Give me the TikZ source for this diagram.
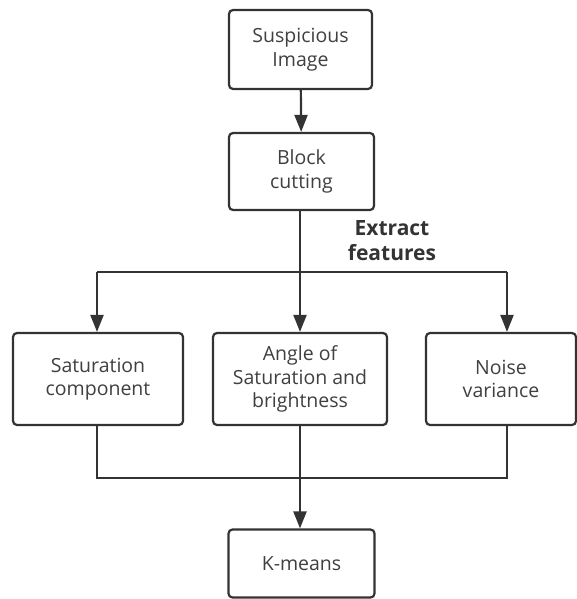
\documentclass[tikz,border=0pt]{standalone}
\usepackage{fontspec}
\setmainfont{Open Sans}
\usetikzlibrary{arrows.meta}
\begin{document}
\begin{tikzpicture}[x=1pt,y=-1pt,
  box/.style={draw=black!80, line width=2.2pt, rounded corners=4pt, fill=white,
    align=center, font=\fontsize{19.5}{23.5}\selectfont, text=black!75, inner sep=0pt},
  conn/.style={draw=black!80, line width=2.2pt},
  arr/.style={conn, -{Triangle[length=17pt,width=13pt]}}]
\useasboundingbox (0,0) rectangle (576,599);
\node[box, minimum width=143pt, minimum height=79pt] (img) at (300.5,49.5) {Suspicious\\Image};
\node[box, minimum width=145pt, minimum height=77pt] (blk) at (301.5,171.5) {Block\\cutting};
\node[box, minimum width=170pt, minimum height=92pt] (sat) at (98,379) {Saturation\\component};
\node[box, minimum width=174pt, minimum height=92pt] (ang) at (300,379) {Angle of\\Saturation and\\brightness};
\node[box, minimum width=150pt, minimum height=92pt] (noi) at (501,379) {Noise\\variance};
\node[box, minimum width=146pt, minimum height=68pt] (km) at (301.5,563.5) {K-means};
\node[align=center, font=\fontsize{21}{25}\selectfont\bfseries, text=black!80, inner sep=0pt] (ext) at (392,241) {Extract\\features};
\coordinate (split) at (300,272);
\coordinate (sl) at (97,272);
\coordinate (sr) at (507,272);
\coordinate (ml) at (97,478);
\coordinate (mr) at (507,478);
\draw[arr] (img) -- (blk);
\draw[arr] (blk.south -| split) -- (ang.north -| split);
\draw[conn] (sl) -- (sr);
\draw[arr] (sl) -- (sat.north -| sl);
\draw[arr] (sr) -- (noi.north -| sr);
\draw[conn] (sat.south -| ml) -- (ml) -- (mr) -- (noi.south -| mr);
\draw[arr] (ang.south -| split) -- (km.north -| split);
\end{tikzpicture}
\end{document}
